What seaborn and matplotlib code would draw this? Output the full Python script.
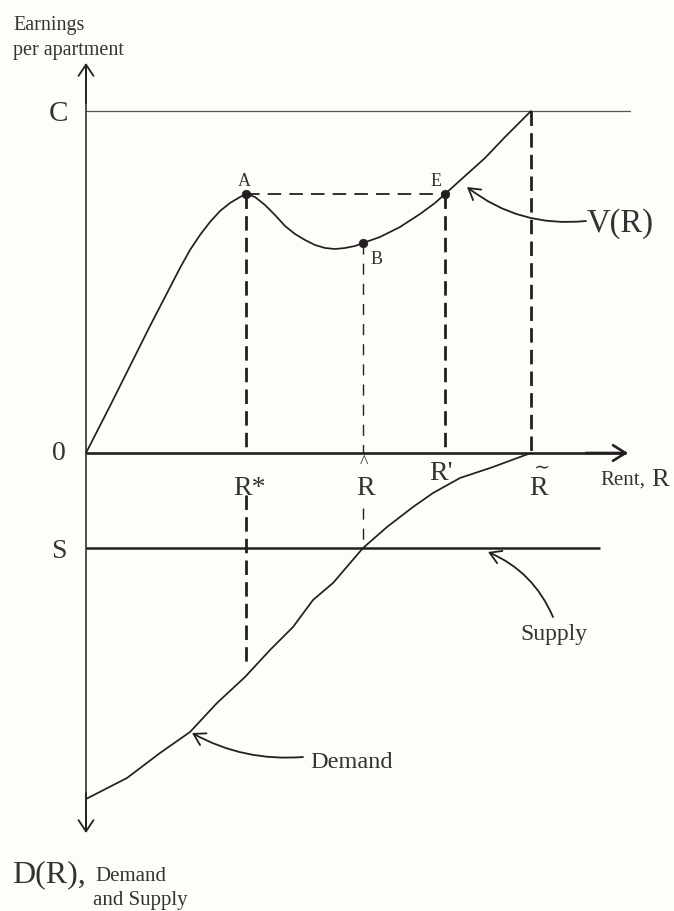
import numpy as np
import pandas as pd
import seaborn as sns
import matplotlib
matplotlib.use("Agg")
import matplotlib.pyplot as plt

# ---------------- data (diagram units: rent to the right, earnings up, demand/supply down) -------------
# key rents
R_star, R_hat, R_prime, R_tilde = 160, 277, 359, 445
C_level = 342          # ceiling C
S_level = -95          # supply level (drawn below the rent axis)
A_level = 259          # V(R*) = V(R')

# earnings curve V(R)
v_rent = [0, 24, 44, 64, 79, 94, 104, 114, 124, 134, 144, 154, 160, 169, 179, 189, 199, 209,
          219, 229, 239, 249, 259, 269, 277, 294, 314, 334, 349, 359, 379, 399, 419, 434, 445]
v_earn = [0, 47, 87, 127, 156, 185, 203, 218, 231, 242, 250, 256, 259, 256, 248, 238, 227, 219,
          213, 208, 205, 204, 205, 207, 210, 216, 226, 239, 250, 259, 277, 295, 316, 331, 342]

# demand curve D(R) (plotted downward)
d_rent = [0, 41, 74, 104, 131, 159, 184, 207, 227, 247, 277, 301, 327, 347, 374, 407, 434, 445]
d_val = [-346, -325, -300, -279, -250, -224, -197, -174, -147, -130, -95, -74, -54, -40, -25, -14, -4, 0]

# marked points
pt_names = ["A", "B", "E"]
pt_rent = [R_star, R_hat, R_prime]
pt_earn = [259, 210, 259]

# axis labels
x_tick_labels = ["R*", "R", "R'", "R"]

# ---------------- styling -------------
sns.set_style("white")
plt.rcParams['font.family'] = ['Liberation Serif', 'DejaVu Serif']
plt.rcParams['mathtext.fontset'] = 'dejavuserif'

INK = "#231f20"
TXT = "#333333"
BG = "#fdfdf9"

fig = plt.figure(figsize=(6.74, 9.11), dpi=100, facecolor=BG)
ax = fig.add_axes([0, 0, 1, 1])
ax.set_facecolor(BG)
ax.set_xlim(-86, 588)
ax.set_ylim(-458, 453)
ax.axis("off")

# ceiling C
ax.plot([0, 544], [C_level, C_level], color="#555555", lw=0.9)
# supply line
ax.plot([0, 514], [S_level, S_level], color=INK, lw=1.8, solid_capstyle="butt")

# axes with arrows
ax.plot([0, 540], [0, 0], color=INK, lw=1.9, solid_capstyle="butt")
ax.annotate("", xy=(542, 0), xytext=(500, 0),
            arrowprops=dict(arrowstyle="->,head_length=0.45,head_width=0.28", lw=1.9, color=INK,
                            shrinkA=0, shrinkB=0, mutation_scale=20))
ax.plot([0, 0], [-378, 388], color=INK, lw=1.1, solid_capstyle="butt")
ax.annotate("", xy=(0, 390), xytext=(0, 350),
            arrowprops=dict(arrowstyle="->,head_length=0.45,head_width=0.3", lw=1.3, color=INK,
                            shrinkA=0, shrinkB=0, mutation_scale=18))
ax.annotate("", xy=(0, -380), xytext=(0, -340),
            arrowprops=dict(arrowstyle="->,head_length=0.45,head_width=0.3", lw=1.3, color=INK,
                            shrinkA=0, shrinkB=0, mutation_scale=18))

# dashed guide lines
thick = dict(color=INK, lw=2.0, dashes=(5.2, 2.6))
thin = dict(color=INK, lw=1.0, dashes=(8.0, 6.5))
ax.plot([R_star, R_star], [A_level, 0], **thick)
ax.plot([R_star, R_star], [-42, -214], **thick)
ax.plot([R_prime, R_prime], [A_level, 0], **thick)
ax.plot([R_tilde, R_tilde], [C_level, 0], **thick)
ax.plot([R_hat, R_hat], [210, 0], **thin)
ax.plot([R_hat, R_hat], [-55, S_level], **thin)
ax.plot([R_star, R_prime], [A_level, A_level], color=INK, lw=1.3, dashes=(7.5, 4.5))

# curves (seaborn)
sns.lineplot(x=v_rent, y=v_earn, sort=False, estimator=None, color=INK, lw=1.25, ax=ax)
sns.lineplot(x=d_rent, y=d_val, sort=False, estimator=None, color=INK, lw=1.25, ax=ax)
sns.scatterplot(x=pt_rent, y=pt_earn, color=INK, s=38, edgecolor=INK, zorder=5, ax=ax)

# point labels
ax.text(158, 267, "A", fontsize=13, color=TXT, ha="center", va="baseline")
ax.text(291, 189, "B", fontsize=13, color=TXT, ha="center", va="baseline")
ax.text(350, 267, "E", fontsize=13, color=TXT, ha="center", va="baseline")

# axis-level labels
ax.text(-28, 339, "C", fontsize=21, color=TXT, ha="center", va="center")
ax.text(-27, -1, "0", fontsize=20, color=TXT, ha="center", va="center")
ax.text(-27, -99, "S", fontsize=20, color=TXT, ha="center", va="center")

# rent labels
ax.text(163, -42, x_tick_labels[0], fontsize=20, color=TXT, ha="center", va="baseline")
ax.text(280, -42, x_tick_labels[1], fontsize=20, color=TXT, ha="center", va="baseline")
ax.text(278, -11, "^", fontsize=13, color=TXT, ha="center", va="center")
ax.text(355, -27, x_tick_labels[2], fontsize=20, color=TXT, ha="center", va="baseline")
ax.text(453, -42, x_tick_labels[3], fontsize=20, color=TXT, ha="center", va="baseline")
ax.text(454, -14, r"$\sim$", fontsize=14, color=TXT, ha="center", va="center")
ax.text(514, -32, "Rent,", fontsize=15, color=TXT, ha="left", va="baseline")
ax.text(565, -33, "R", fontsize=19, color=TXT, ha="left", va="baseline")

# axis titles
ax.text(-73, 423, "Earnings", fontsize=14.5, color=TXT, ha="left", va="baseline")
ax.text(-73, 398, "per apartment", fontsize=14.5, color=TXT, ha="left", va="baseline")
ax.text(-74, -429, "D(R),", fontsize=23, color=TXT, ha="left", va="baseline")
ax.text(9, -428, "Demand", fontsize=15, color=TXT, ha="left", va="baseline")
ax.text(7, -452, "and Supply", fontsize=15, color=TXT, ha="left", va="baseline")

# callouts
ax.text(501, 221, "V(R)", fontsize=23.5, color=TXT, ha="left", va="baseline")
ax.annotate("", xy=(381, 266), xytext=(500, 232),
            arrowprops=dict(arrowstyle="->,head_length=0.5,head_width=0.3", lw=1.3, color=INK,
                            shrinkA=0, shrinkB=0, mutation_scale=16,
                            connectionstyle="arc3,rad=-0.2"))
ax.text(224, -315, "Demand", fontsize=17.5, color=TXT, ha="left", va="baseline")
ax.annotate("", xy=(106, -280), xytext=(217, -304),
            arrowprops=dict(arrowstyle="->,head_length=0.5,head_width=0.3", lw=1.3, color=INK,
                            shrinkA=0, shrinkB=0, mutation_scale=16,
                            connectionstyle="arc3,rad=-0.15"))
ax.text(434, -187, "Supply", fontsize=17, color=TXT, ha="left", va="baseline")
ax.annotate("", xy=(402, -99), xytext=(467, -164),
            arrowprops=dict(arrowstyle="->,head_length=0.5,head_width=0.3", lw=1.3, color=INK,
                            shrinkA=0, shrinkB=0, mutation_scale=16,
                            connectionstyle="arc3,rad=0.2"))

fig.savefig("out.png", dpi=100, facecolor=BG)
